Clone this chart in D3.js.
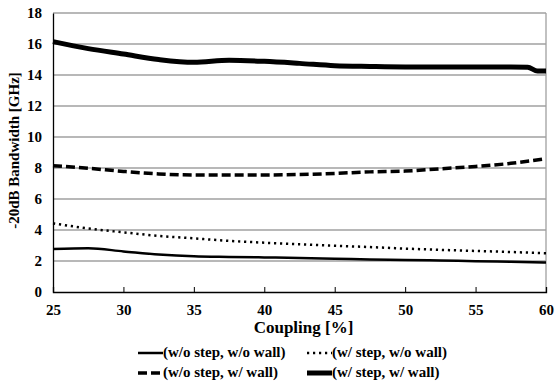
<!DOCTYPE html>
<html>
<head>
<meta charset="utf-8">
<script src="https://cdn.jsdelivr.net/npm/d3@7"></script>
<style>
body { margin: 0; background: #fff; }
svg text { font-family: "Liberation Serif", "Times New Roman", serif; font-weight: bold; fill: #000; }
</style>
</head>
<body>
<svg id="chart" width="555" height="385"></svg>
<script>
// coupling values [%]
var coupling = [25, 27.5, 30, 32.5, 35, 37.5, 40, 42.5, 45, 47.5, 50, 52.5, 55, 57.5, 60];
var woStepWoWall = [2.77, 2.82, 2.62, 2.42, 2.3, 2.26, 2.23, 2.2, 2.15, 2.1, 2.07, 2.03, 1.99, 1.95, 1.9];
var wStepWoWall = [4.43, 4.1, 3.85, 3.62, 3.46, 3.3, 3.18, 3.08, 2.98, 2.9, 2.8, 2.72, 2.65, 2.58, 2.5];
var woStepWWall = [8.15, 7.98, 7.78, 7.62, 7.55, 7.55, 7.55, 7.58, 7.65, 7.75, 7.8, 7.95, 8.1, 8.3, 8.6];
// thick curve has a small drop just before 60, so it keeps its own x list
var couplingThick = [25, 27.5, 30, 32.5, 35, 37.5, 40, 42.5, 45, 47.5, 50, 52.5, 55, 57.5, 58.7, 59.4, 60];
var wStepWWall = [16.15, 15.7, 15.35, 15.0, 14.82, 14.95, 14.88, 14.75, 14.6, 14.55, 14.52, 14.52, 14.52, 14.52, 14.5, 14.26, 14.26];

var xTicks = [25, 30, 35, 40, 45, 50, 55, 60];
var yTicks = [0, 2, 4, 6, 8, 10, 12, 14, 16, 18];

var svg = d3.select('#chart');
var plotL = 53, plotR = 546, plotT = 13, plotB = 292;

var x = d3.scaleLinear().domain([25, 60]).range([plotL, plotR]);
var y = d3.scaleLinear().domain([0, 18]).range([plotB, plotT]);

// grid lines
svg.append('g').selectAll('line').data(yTicks.slice(1)).enter().append('line')
    .attr('x1', plotL).attr('x2', plotR)
    .attr('y1', function(d) { return y(d); }).attr('y2', function(d) { return y(d); })
    .attr('stroke', '#a0a0a0').attr('stroke-width', 1.3);

// right border
svg.append('line').attr('x1', plotR).attr('x2', plotR).attr('y1', plotT).attr('y2', plotB)
    .attr('stroke', '#a0a0a0').attr('stroke-width', 1.3);

// axes
var xAxis = d3.axisBottom(x).tickValues(xTicks).tickSize(-5).tickPadding(12).tickFormat(d3.format('d'));
var gx = svg.append('g').attr('transform', 'translate(0,' + plotB + ')').call(xAxis);
gx.select('.domain').attr('stroke', '#000').attr('stroke-width', 1.3);
gx.selectAll('.tick line').attr('stroke', '#000');
gx.selectAll('text').style('font-size', '15px');

var yAxis = d3.axisLeft(y).tickValues(yTicks).tickSize(0).tickPadding(11);
var gy = svg.append('g').attr('transform', 'translate(' + plotL + ',0)').call(yAxis);
gy.select('.domain').attr('stroke', '#000').attr('stroke-width', 1.3);
gy.selectAll('text').style('font-size', '15px');

// axis titles
svg.append('text').attr('x', (plotL + plotR) / 2 + 4).attr('y', 333)
    .attr('text-anchor', 'middle').style('font-size', '17px').text('Coupling [%]');
svg.append('text').attr('transform', 'translate(19,' + ((plotT + plotB) / 2 - 2) + ') rotate(-90)')
    .attr('text-anchor', 'middle').style('font-size', '15px').text('-20dB Bandwidth [GHz]');

// series
var series = [
    {name: '(w/o step, w/o wall)', xs: coupling, ys: woStepWoWall, width: 2.5, dash: null},
    {name: '(w/ step, w/o wall)', xs: coupling, ys: wStepWoWall, width: 2.5, dash: '2.2,3.8'},
    {name: '(w/o step, w/ wall)', xs: coupling, ys: woStepWWall, width: 3.5, dash: '9,4'},
    {name: '(w/ step, w/ wall)', xs: couplingThick, ys: wStepWWall, width: 5, dash: null}
];

var line = d3.line()
    .x(function(d) { return x(d[0]); })
    .y(function(d) { return y(d[1]); })
    .curve(d3.curveMonotoneX);

series.forEach(function(s) {
    var pts = s.xs.map(function(v, i) { return [v, s.ys[i]]; });
    var p = svg.append('path').datum(pts)
        .attr('d', line)
        .attr('fill', 'none')
        .attr('stroke', '#000')
        .attr('stroke-width', s.width);
    if (s.dash) p.attr('stroke-dasharray', s.dash);
});

// legend
var legPos = [[138, 357], [307, 357], [138, 377], [307, 377]];
series.forEach(function(s, i) {
    var g = svg.append('g').attr('transform', 'translate(' + legPos[i][0] + ',' + legPos[i][1] + ')');
    var l = g.append('line').attr('x1', 0).attr('x2', 25).attr('y1', -4).attr('y2', -4)
        .attr('stroke', '#000').attr('stroke-width', s.width);
    if (s.dash) l.attr('stroke-dasharray', s.dash);
    g.append('text').attr('x', 25).attr('y', 0).style('font-size', '15px').text(s.name);
});
</script>
</body>
</html>
